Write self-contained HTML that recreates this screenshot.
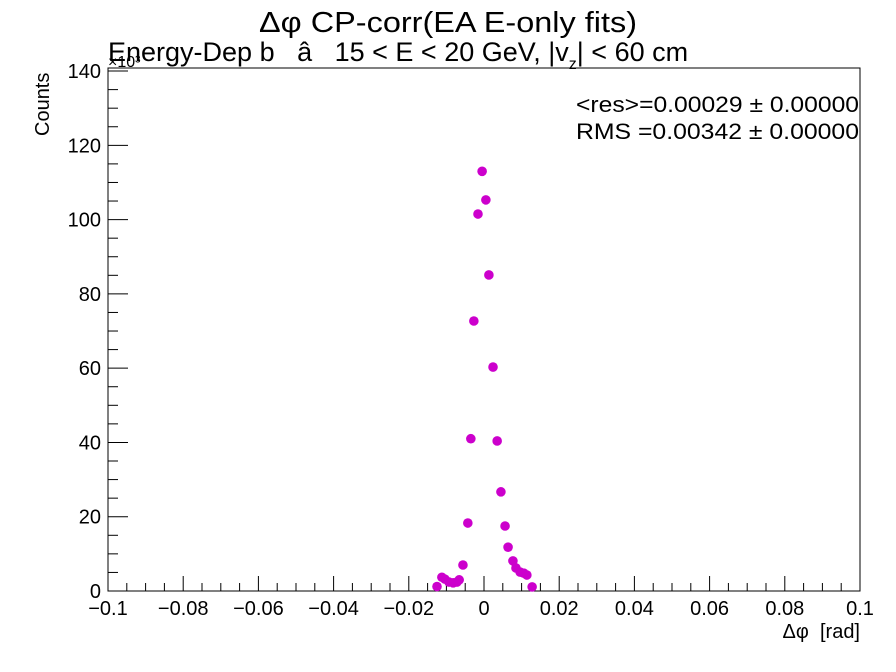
<!DOCTYPE html>
<html><head><meta charset="utf-8"><style>
body{margin:0;background:#fff;}
svg{display:block;font-family:"Liberation Sans",sans-serif;}
</style></head><body>
<svg id="c" width="896" height="672" viewBox="0 0 896 672">
<text x="448" y="32" font-size="29" text-anchor="middle" textLength="378" lengthAdjust="spacingAndGlyphs">Δφ CP-corr(EA E-only fits)</text>
<text x="108" y="61" font-size="27">Energy-Dep b&#160;&#160;&#160;â&#160;&#160;&#160;15 &lt; E &lt; 20 GeV, |v<tspan font-size="16" dy="8">z</tspan><tspan dy="-8">| &lt; 60 cm</tspan></text>
<text x="108" y="67" font-size="16">×10³</text>
<text x="576" y="112" font-size="22" textLength="283" lengthAdjust="spacingAndGlyphs">&lt;res&gt;=0.00029 ± 0.00000</text>
<text x="576" y="139" font-size="22" textLength="283" lengthAdjust="spacingAndGlyphs">RMS =0.00342 ± 0.00000</text>
<text transform="translate(49,136) rotate(-90)" font-size="20">Counts</text>
<text x="860" y="638" font-size="20" text-anchor="end">Δφ&#160;&#160;[rad]</text>
<rect x="108" y="68" width="752" height="523" fill="none" stroke="#000" stroke-width="1"/>
<g id="ax"></g><g id="pts"></g>
</svg>
<script>
const xVals=[-0.0125,-0.0112,-0.0104,-0.0093,-0.0082,-0.0072,-0.0066,-0.0056,-0.0043,-0.0035,-0.0027,-0.0016,-0.0005,0.0005,0.0013,0.0024,0.0035,0.0045,0.0056,0.0064,0.0077,0.0085,0.0096,0.0106,0.0114,0.0128];
const yVals=[1.2,3.7,3.2,2.4,2.2,2.4,3.0,7.0,18.3,41.0,72.7,101.5,113,105.3,85.1,60.3,40.4,26.7,17.5,11.8,8.1,6.2,5.1,4.8,4.3,1.1];
const xTicks=[-0.1,-0.08,-0.06,-0.04,-0.02,0,0.02,0.04,0.06,0.08,0.1];
const xTickLabels=["−0.1","−0.08","−0.06","−0.04","−0.02","0","0.02","0.04","0.06","0.08","0.1"];
const yTicks=[0,20,40,60,80,100,120,140];
const NS="http://www.w3.org/2000/svg";
const X=v=>484+v*3760, Y=v=>591-v*3.714;
const ax=document.getElementById('ax'), pts=document.getElementById('pts');
function ln(x1,y1,x2,y2,name){const l=document.createElementNS(NS,'line');l.setAttribute('x1',x1);l.setAttribute('y1',y1);l.setAttribute('x2',x2);l.setAttribute('y2',y2);l.setAttribute('stroke','#000');


ax.appendChild(l);}
function tx(x,y,s,anchor,name){const t=document.createElementNS(NS,'text');t.setAttribute('x',x);t.setAttribute('y',y);t.setAttribute('font-size','20');t.setAttribute('text-anchor',anchor);t.textContent=s;


ax.appendChild(t);}
for(let v=-0.1;v<=0.1001;v+=0.005){const maj=Math.abs(Math.round(v/0.02)*0.02-v)<1e-6;ln(X(v),591,X(v),591-(maj?15:8),'x-tick');}
xTicks.forEach((v,i)=>tx(X(v),615,xTickLabels[i],'middle','x-tick-label'));
for(let v=0;v<=140.01;v+=5){const maj=v%20===0;ln(108,Y(v),108+(maj?20:10),Y(v),'y-tick');}
yTicks.forEach(v=>tx(101,Y(v)+7,String(v),'end','y-tick-label'));
xVals.forEach((v,i)=>{const c=document.createElementNS(NS,'circle');c.setAttribute('cx',X(v));c.setAttribute('cy',Y(yVals[i]));c.setAttribute('r','4.8');c.setAttribute('fill','#cc00cc');


pts.appendChild(c);});
</script>
</body></html>
